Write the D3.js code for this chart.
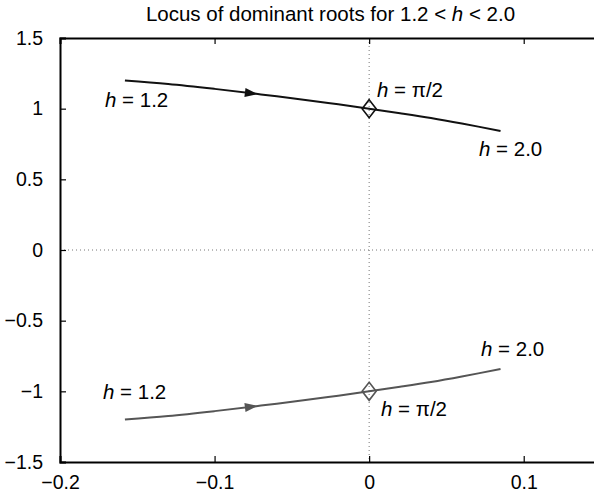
<!DOCTYPE html>
<html>
<head>
<meta charset="utf-8">
<script src="https://cdn.jsdelivr.net/npm/d3@7"></script>
<style>
  html, body { margin: 0; padding: 0; background: #fff; }
  svg { display: block; font-family: "Liberation Sans", Arial, sans-serif; }
</style>
</head>
<body>
<div id="chart"></div>
<script>
// Locus of dominant roots
const reValues = [-0.158, -0.13, -0.10, -0.07, -0.04, -0.02, 0.00, 0.02, 0.04, 0.06, 0.085];
const imValues = [1.200, 1.175, 1.140, 1.101, 1.060, 1.031, 1.000, 0.968, 0.934, 0.895, 0.842];
const xTicks = [-0.2, -0.1, 0, 0.1];
const yTicks = [-1.5, -1, -0.5, 0, 0.5, 1, 1.5];
const xTickLabels = ['\u22120.2', '\u22120.1', '0', '0.1'];
const yTickLabels = ['\u22121.5', '\u22121', '\u22120.5', '0', '0.5', '1', '1.5'];
const arrowAt = -0.072;           // real part where the direction arrow sits
const markerPoint = [0, 1];       // h = pi/2 crossing

const width = 594, height = 494;
const margin = { left: 60, top: 38, right: -7, bottom: 32 };

const svg = d3.select('#chart').append('svg')
    .attr('width', width)
    .attr('height', height);

const x = d3.scaleLinear().domain([-0.2, 0.15]).range([margin.left, width - margin.right]);
const y = d3.scaleLinear().domain([-1.5, 1.5]).range([height - margin.bottom, margin.top]);

// title
const title = svg.append('text')
    .attr('x', (x.range()[0] + x.range()[1]) / 2)
    .attr('y', 21)
    .attr('text-anchor', 'middle')
    .style('font-size', '20.5px');
title.append('tspan').text('Locus of dominant roots for 1.2 < ');
title.append('tspan').style('font-style', 'italic').text('h');
title.append('tspan').text(' < 2.0');

// dotted zero lines
svg.append('line')
    .attr('x1', x(0)).attr('x2', x(0))
    .attr('y1', y(1.5)).attr('y2', y(-1.5))
    .attr('stroke', '#777').attr('stroke-width', 1)
    .attr('stroke-dasharray', '1,3');
svg.append('line')
    .attr('x1', x(-0.2)).attr('x2', x(0.15))
    .attr('y1', y(0)).attr('y2', y(0))
    .attr('stroke', '#777').attr('stroke-width', 1)
    .attr('stroke-dasharray', '1,3');

// axes (box with inward ticks)
const tickLen = -6;
svg.append('g')
    .attr('transform', `translate(0,${y(-1.5)})`)
    .call(d3.axisBottom(x).tickValues(xTicks).tickSize(tickLen)
        .tickFormat((d, i) => xTickLabels[i]).tickPadding(13))
    .call(g => g.selectAll('text').style('font-size', '19.5px').attr('fill', '#000'));
svg.append('g')
    .attr('transform', `translate(0,${y(1.5)})`)
    .call(d3.axisTop(x).tickValues(xTicks).tickSize(tickLen).tickFormat(''));
svg.append('g')
    .attr('transform', `translate(${x(-0.2)},0)`)
    .call(d3.axisLeft(y).tickValues(yTicks).tickSize(tickLen)
        .tickFormat((d, i) => yTickLabels[i]).tickPadding(17))
    .call(g => g.selectAll('text').style('font-size', '19.5px').attr('fill', '#000'));
svg.selectAll('.domain').attr('stroke', '#000').attr('stroke-width', 2);
svg.selectAll('.tick line').attr('stroke', '#000').attr('stroke-width', 1.2);

// the two branches: upper root and its conjugate
const branches = [
    { sign: 1, color: '#111' },
    { sign: -1, color: '#555' }
];

const line = d3.line()
    .x(d => x(d[0]))
    .y(d => y(d[1]))
    .curve(d3.curveCatmullRom);

branches.forEach(b => {
    const pts = reValues.map((r, i) => [r, b.sign * imValues[i]]);

    svg.append('path')
        .datum(pts)
        .attr('fill', 'none')
        .attr('stroke', b.color)
        .attr('stroke-width', 2)
        .attr('d', line);

    // direction arrow
    let k = 0;
    while (k < pts.length - 2 && pts[k + 1][0] < arrowAt) k++;
    const t = (arrowAt - pts[k][0]) / (pts[k + 1][0] - pts[k][0]);
    const ay = pts[k][1] + t * (pts[k + 1][1] - pts[k][1]);
    const dx = x(pts[k + 1][0]) - x(pts[k][0]);
    const dy = y(pts[k + 1][1]) - y(pts[k][1]);
    const ang = Math.atan2(dy, dx) * 180 / Math.PI;
    svg.append('path')
        .attr('d', 'M0,0L-13,-4.5L-13,4.5Z')
        .attr('fill', b.color)
        .attr('transform', `translate(${x(arrowAt)},${y(ay)}) rotate(${ang})`);

    // h = pi/2 marker
    const mx = x(markerPoint[0]), my = y(b.sign * markerPoint[1]);
    svg.append('path')
        .attr('d', `M${mx},${my - 9}L${mx + 7},${my}L${mx},${my + 9}L${mx - 7},${my}Z`)
        .attr('fill', 'none')
        .attr('stroke', b.color)
        .attr('stroke-width', 1.6);
});

// annotations
const notes = [
    { px: 105, py: 107, txt: ' = 1.2' },
    { px: 377, py: 97, txt: ' = \u03c0/2' },
    { px: 479, py: 156, txt: ' = 2.0' },
    { px: 103, py: 399, txt: ' = 1.2' },
    { px: 481, py: 356, txt: ' = 2.0' },
    { px: 381, py: 416, txt: ' = \u03c0/2' }
];
notes.forEach(n => {
    const t = svg.append('text')
        .attr('x', n.px).attr('y', n.py)
        .style('font-size', '20.5px')
        .attr('fill', '#000');
    t.append('tspan').style('font-style', 'italic').text('h');
    t.append('tspan').text(n.txt);
});
</script>
</body>
</html>
